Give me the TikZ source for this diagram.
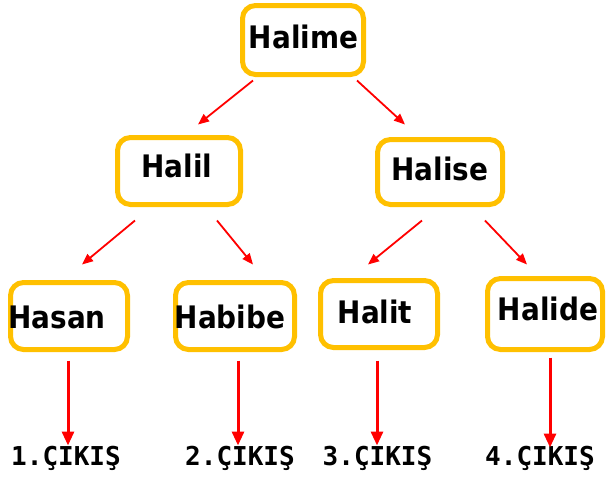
\documentclass[tikz,border=0pt]{standalone}
\usepackage{fontspec}
\setmainfont{DejaVu Sans}
\newfontfamily\namefam{DejaVu Sans Condensed}
\newfontfamily\monofam{DejaVu Sans Mono}
\usetikzlibrary{arrows.meta,calc}
\definecolor{boxgold}{RGB}{255,192,0}
\definecolor{arrred}{RGB}{255,0,0}
\tikzset{
  famobox/.style={draw=boxgold, line width=5pt, rounded corners=13pt, fill=white, inner sep=0pt},
  nametext/.style={anchor=base, inner sep=0pt, font=\namefam\bfseries\fontsize{31}{36}\selectfont},
  outtext/.style={anchor=base, inner sep=0pt, font=\monofam\bfseries\fontsize{26}{30}\selectfont},
  diagarr/.style={draw=arrred, line width=1.8pt, -{Triangle[length=11pt,width=9pt]}},
  vertarr/.style={draw=arrred, line width=3pt, -{Triangle[length=14pt,width=12pt]}}
}
\begin{document}
\begin{tikzpicture}[x=1pt,y=-1pt]
\useasboundingbox (0,0) rectangle (606,480);
% boxes
\node[famobox, minimum width=121pt, minimum height=69pt] (halime) at (303,40) {};
\node[famobox, minimum width=123pt, minimum height=67pt] (halil) at (179,171) {};
\node[famobox, minimum width=125pt, minimum height=65pt] (halise) at (440,172) {};
\node[famobox, minimum width=117pt, minimum height=67pt] (hasan) at (69,316) {};
\node[famobox, minimum width=119pt, minimum height=67pt] (habibe) at (235,316) {};
\node[famobox, minimum width=117pt, minimum height=67pt] (halit) at (379,314) {};
\node[famobox, minimum width=115pt, minimum height=71pt] (halide) at (545,314) {};
% names
\node[nametext] (thalime) at (303.5,48) {Halime};
\node[nametext] (thalil) at (177,177) {Halil};
\node[nametext] (thalise) at (440,180) {Halise};
\node[nametext] (thasan) at (57,328) {Hasan};
\node[nametext] (thabibe) at (230,328) {Habibe};
\node[nametext] (thalit) at (375,323) {Halit};
\node[nametext] (thalide) at (548,320) {Halide};
% outputs
\node[outtext] (out1) at (66,465) {1.ÇIKIŞ};
\node[outtext] (out2) at (240,465) {2.ÇIKIŞ};
\node[outtext] (out3) at (377.5,465) {3.ÇIKIŞ};
\node[outtext] (out4) at (540,465) {4.ÇIKIŞ};
% diagonal arrows
\draw[diagarr] ($(halime.south)+(-50,3.5)$) -- ($(halil.north)+(19,-10.5)$);
\draw[diagarr] ($(halime.south)+(54,3.5)$) -- ($(halise.north)+(-35,-12.5)$);
\draw[diagarr] ($(halil.south)+(-44,13.5)$) -- ($(hasan.north)+(13,-15.5)$);
\draw[diagarr] ($(halil.south)+(38,13.5)$) -- ($(habibe.north)+(18,-15.5)$);
\draw[diagarr] ($(halise.south)+(-18,13.5)$) -- ($(halit.north)+(-11,-13.5)$);
\draw[diagarr] ($(halise.south)+(45,13.5)$) -- ($(halide.north)+(-18,-11.5)$);
% vertical arrows
\draw[vertarr] ($(hasan.south)+(-1,8.5)$) -- ($(hasan.south)+(-1,93.5)$);
\draw[vertarr] ($(habibe.south)+(3,8.5)$) -- ($(habibe.south)+(3,93.5)$);
\draw[vertarr] ($(halit.south)+(-2,10.5)$) -- ($(halit.south)+(-2,95.5)$);
\draw[vertarr] ($(halide.south)+(5,5.5)$) -- ($(halide.south)+(5,95.5)$);
\end{tikzpicture}
\end{document}
